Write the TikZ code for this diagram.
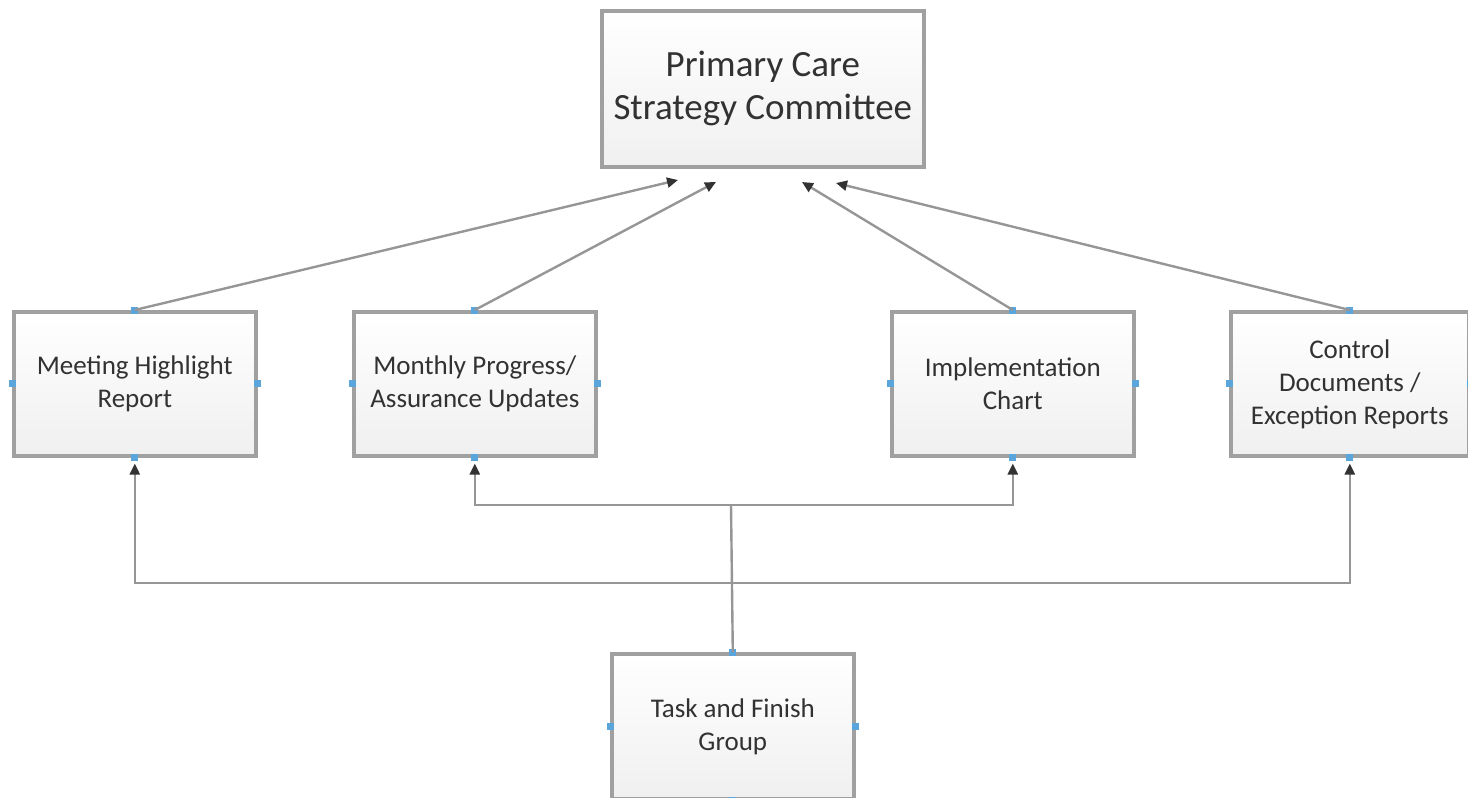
\documentclass[tikz,border=0pt]{standalone}
\usepackage{fontspec}
\setmainfont{Carlito}
\usetikzlibrary{arrows.meta}
\definecolor{boxline}{RGB}{160,160,160}
\definecolor{conline}{RGB}{150,150,150}
\definecolor{tipcol}{RGB}{50,50,50}
\definecolor{txt}{RGB}{50,50,50}
\definecolor{mark}{RGB}{90,165,220}
\tikzset{
  box/.style={draw=boxline, line width=1.8pt, top color=white, bottom color=gray!12,
    align=center, text=txt, inner sep=0pt, anchor=north west},
  smallbox/.style={box, minimum width=121pt, minimum height=72pt, font=\fontsize{13.5}{16.5}\selectfont},
  conn/.style={draw=conline, line width=1.2pt},
  arr/.style={conn, -{Triangle[length=5.5pt,width=5pt,fill=tipcol,color=tipcol]}},
  cmark/.style={fill=mark, draw=none, minimum size=3.5pt, inner sep=0pt}
}
\begin{document}
\begin{tikzpicture}[x=0.5pt,y=-0.5pt]
\useasboundingbox (0,0) rectangle (1468,798);
\node[box, minimum width=161pt, minimum height=78pt, font=\fontsize{18.5}{21.5}\selectfont] (top) at (600,9) {Primary Care\\Strategy Committee};
\node[smallbox] (mhr) at (12,310) {Meeting Highlight\\Report};
\node[smallbox] (mpa) at (352,310) {Monthly Progress/\\Assurance Updates};
\node[smallbox] (imp) at (890,310) {Implementation\\Chart};
\node[smallbox, minimum width=119pt] (cde) at (1229,310) {Control\\Documents /\\Exception Reports};
\node[smallbox, minimum height=72.5pt] (tfg) at (610,652) {Task and Finish\\Group};
% connection markers
\foreach \n in {mhr,mpa,imp,cde,tfg}{
  \foreach \a in {north,south,east,west}{
    \node[cmark] at (\n.\a) {};
  }
}
% arrow ends under top box
\coordinate (e1) at (678,180);
\coordinate (e2) at (716,182);
\coordinate (e3) at (802,182);
\coordinate (e4) at (836,183);
\draw[arr] (mhr.north) -- (e1);
\draw[arr] (mpa.north) -- (e2);
\draw[arr] (imp.north) -- (e3);
\draw[arr] (cde.north) -- (e4);
% lower tree
\coordinate (j1) at (731,505);
\coordinate (j2) at (731,583);
\draw[conn] (tfg.north) -- (j1);
\draw[arr] (j1) -| ([yshift=-3pt]mpa.south);
\draw[arr] (j1) -| ([yshift=-3pt]imp.south);
\draw[arr] (j2) -| ([yshift=-3pt]mhr.south);
\draw[arr] (j2) -| ([yshift=-3pt]cde.south);
\end{tikzpicture}
\end{document}
